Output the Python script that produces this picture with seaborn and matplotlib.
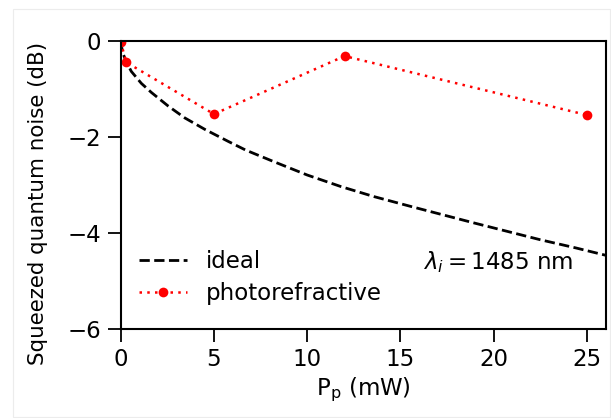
import matplotlib
matplotlib.use("Agg")
import matplotlib.pyplot as plt
import seaborn as sns
import pandas as pd
from matplotlib.patches import Rectangle

# Data
ideal_p = [0, 0.1, 0.3, 0.57, 1.11, 1.65, 2.54, 3.44, 4.52, 5.77, 6.7, 8.2, 10.0,
           11.8, 13.58, 15.6, 18.95, 22.5, 24.4, 25.86, 26.5]
ideal_db = [0, -0.24, -0.44, -0.64, -0.89, -1.08, -1.36, -1.61, -1.85, -2.10, -2.28,
            -2.52, -2.80, -3.04, -3.25, -3.46, -3.80, -4.15, -4.32, -4.46, -4.52]
photo_p = [0, 0.3, 5, 12, 25]
photo_db = [-0.02, -0.45, -1.53, -0.32, -1.55]
xticks = [0, 5, 10, 15, 20, 25]
yticks = [0, -2, -4, -6]

sns.set_style("ticks")
plt.rcParams['font.family'] = ['DejaVu Sans']
plt.rcParams['mathtext.fontset'] = 'dejavusans'
plt.rcParams['text.color'] = 'black'
plt.rcParams['axes.labelcolor'] = 'black'
plt.rcParams['xtick.color'] = 'black'
plt.rcParams['ytick.color'] = 'black'

fig = plt.figure(figsize=(6.11, 4.18), dpi=100)
ax = fig.add_axes([0.1975, 0.2141, 0.9913 - 0.1975, 0.9026 - 0.2141])

df_ideal = pd.DataFrame({"P": ideal_p, "dB": ideal_db})
df_photo = pd.DataFrame({"P": photo_p, "dB": photo_db})

sns.lineplot(data=df_ideal, x="P", y="dB", ax=ax, color="black", linestyle="--",
             linewidth=2.0, label="ideal", sort=False)
sns.lineplot(data=df_photo, x="P", y="dB", ax=ax, color="red", linestyle=(0, (1, 2.1)),
             linewidth=1.8, marker="o", markersize=7, markeredgewidth=0,
             label="photorefractive", sort=False)

ax.set_xlim(0, 26)
ax.set_ylim(-6, 0)
ax.set_xticks(xticks)
ax.set_yticks(yticks)
ax.tick_params(axis="both", labelsize=16.5, length=9.5, width=1.3, pad=4.5,
               direction="out", colors="black")
for s in ax.spines.values():
    s.set_linewidth(1.5)
    s.set_color("black")
    s.set_visible(True)

ax.set_xlabel(r"P$_\mathrm{p}$ (mW)", fontsize=16.5)
ax.set_ylabel("Squeezed quantum noise (dB)", fontsize=15.4)
ax.yaxis.set_label_coords(-0.149, 0.436)
ax.xaxis.set_label_coords(0.5, -0.165)

leg = ax.legend(loc="lower left", bbox_to_anchor=(0.0, 0.018), frameon=False,
                fontsize=16.5, handlelength=2.1, borderaxespad=0.4, labelspacing=0.4)
for t in leg.get_texts():
    t.set_color("black")

ax.text(0.9326, 0.232, r"$\lambda_i = 1485$ nm", transform=ax.transAxes,
        ha="right", va="center", fontsize=16.5, color="black")

fig.patches.append(Rectangle((13 / 611, 1 / 418), (610 - 13) / 611, 408 / 418,
                             transform=fig.transFigure, fill=False,
                             edgecolor="#ececec", linewidth=0.8))

fig.savefig("out.png", dpi=100)
